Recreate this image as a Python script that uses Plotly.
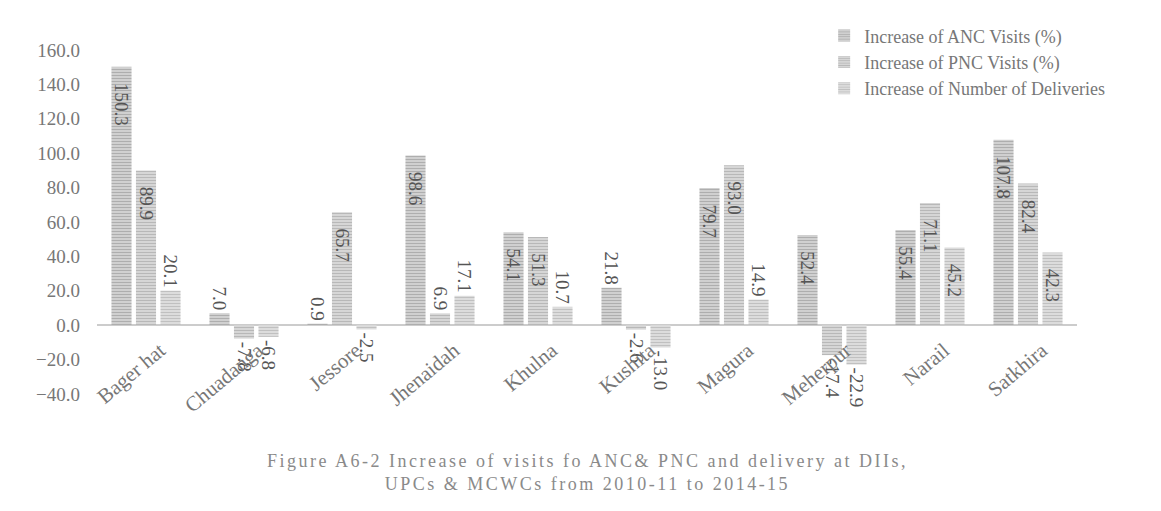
import plotly.graph_objects as go

districts = ["Bager hat", "Chuadanga", "Jessore", "Jhenaidah", "Khulna",
             "Kushita", "Magura", "Meherpur", "Narail", "Satkhira"]
anc_visits = [150.3, 7.0, 0.9, 98.6, 54.1, 21.8, 79.7, 52.4, 55.4, 107.8]
pnc_visits = [89.9, -7.8, 65.7, 6.9, 51.3, -2.6, 93.0, -17.4, 71.1, 82.4]
deliveries = [20.1, -6.8, -2.5, 17.1, 10.7, -13.0, 14.9, -22.9, 45.2, 42.3]
series_names = ["Increase of ANC Visits (%)", "Increase of PNC Visits (%)",
                "Increase of Number of Deliveries"]
y_ticks = [-40, -20, 0, 20, 40, 60, 80, 100, 120, 140, 160]

SERIF = "Liberation Serif, Times New Roman, serif"
styles = [("#8c8c8c", "#d0d0d0"), ("#999999", "#d6d6d6"), ("#a4a4a4", "#dcdcdc")]
INSET = "\u2002\u2009"  # keeps inside labels a little below the bar top

fig = go.Figure()
for name, vals, (fg, bg) in zip(series_names, [anc_visits, pnc_visits, deliveries], styles):
    # short bars carry their value label outside the bar end
    inside = [abs(v) >= 25 for v in vals]
    fig.add_trace(go.Bar(
        x=districts, y=vals, name=name,
        marker=dict(color=bg, line=dict(width=0),
                    pattern=dict(shape="-", fgcolor=fg, bgcolor=bg, size=3, solidity=0.35)),
        text=[(INSET if ins else "") + f"{v:.1f}" for v, ins in zip(vals, inside)],
        texttemplate="%{text}",
        textposition=["inside" if ins else "outside" for ins in inside],
        textangle=90,
        insidetextanchor="end",
        constraintext="none",
        textfont=dict(family=SERIF, size=19, color="#555555"),
        cliponaxis=False,
    ))

fig.update_layout(
    width=1161, height=511,
    paper_bgcolor="white", plot_bgcolor="white",
    margin=dict(l=97, r=84, t=50, b=117),
    barmode="group", bargap=0.25, bargroupgap=0.18,
    font=dict(family=SERIF, color="#777777", size=15),
    legend=dict(x=0.742, y=1.095, xanchor="left", yanchor="top",
                font=dict(family=SERIF, size=18, color="#777777"),
                bgcolor="rgba(0,0,0,0)", itemwidth=30, tracegroupgap=0),
    xaxis=dict(tickangle=-40, showline=False, ticks="",
               anchor="free", position=0.2,
               ticklabelstandoff=8, ticklabelshift=14,
               tickfont=dict(family=SERIF, size=21, color="#777777")),
    yaxis=dict(range=[-40, 160], tickvals=y_ticks, tickformat=".1f",
               showgrid=False, zeroline=True, zerolinecolor="#cccccc", zerolinewidth=1.5,
               ticks="", ticklabelstandoff=16,
               tickfont=dict(family=SERIF, size=19, color="#777777")),
    annotations=[dict(
        text="<span style='letter-spacing:2.5px'>Figure A6-2 Increase of visits fo ANC& PNC and delivery at DIIs,<br>"
             "UPCs & MCWCs from 2010-11 to 2014-15</span>",
        x=0.5, xref="paper", y=-0.16, yref="paper", xanchor="center", yanchor="top",
        showarrow=False, font=dict(family=SERIF, size=18, color="#8a8a8a"))],
)

fig.write_html("out.html")
